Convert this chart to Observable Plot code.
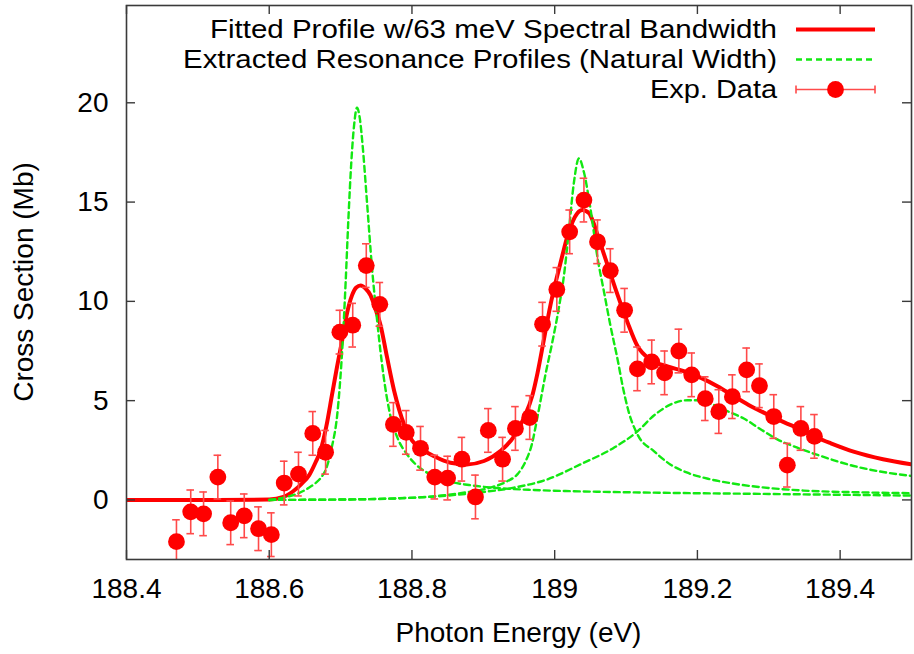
<!DOCTYPE html>
<html>
<head>
<meta charset="utf-8">
<script src="https://cdn.jsdelivr.net/npm/d3@7"></script>
<script src="https://cdn.jsdelivr.net/npm/@observablehq/plot@0.6"></script>
<style>
html, body { margin: 0; padding: 0; background: #fff; }
svg { display: block; }
</style>
</head>
<body>
<div id="chart"></div>
<script>
// ---------- data ----------
const xDomain = [188.4, 189.5];
const yDomain = [-3, 24.9];
const xTicks = [188.4, 188.6, 188.8, 189.0, 189.2, 189.4];
const xTickLabels = ["188.4", "188.6", "188.8", "189", "189.2", "189.4"];
const yTicks = [0, 5, 10, 15, 20];
const yTickLabels = ["0", "5", "10", "15", "20"];

const xTitle = "Photon Energy (eV)";
const yTitle = "Cross Section (Mb)";
const legendLabels = [
  "Fitted Profile w/63 meV Spectral Bandwidth",
  "Extracted Resonance Profiles (Natural Width)",
  "Exp. Data"
];

// experimental data
const dataE = [188.470,188.490,188.508,188.528,188.546,188.565,188.585,188.603,188.621,188.641,
               188.661,188.679,188.699,188.717,188.736,188.755,188.774,188.792,188.812,188.832,
               188.850,188.870,188.889,188.907,188.927,188.945,188.965,188.983,189.003,189.021,
               189.041,189.060,189.078,189.098,189.116,189.136,189.154,189.174,189.192,189.211,
               189.230,189.249,189.269,189.287,189.307,189.326,189.345,189.364];
const dataCS = [-2.1,-0.6,-0.7,1.15,-1.15,-0.8,-1.45,-1.75,0.85,1.3,
                3.35,2.4,8.45,8.8,11.8,9.85,3.8,3.4,2.6,1.15,
                1.1,2.05,0.15,3.5,2.05,3.6,4.15,8.85,10.6,13.5,
                15.1,13.0,11.55,9.55,6.6,6.95,6.4,7.5,6.3,5.1,
                4.45,5.2,6.55,5.75,4.2,1.75,3.6,3.2];
const dataErr = [1.1,1.1,1.1,1.1,1.1,1.1,1.1,1.1,1.1,1.1,
                 1.1,1.1,1.1,1.1,1.1,1.1,1.1,1.1,1.1,1.1,
                 1.1,1.1,1.1,1.1,1.1,1.1,1.1,1.1,1.1,1.1,
                 1.1,1.1,1.1,1.1,1.1,1.1,1.1,1.1,1.1,1.1,
                 1.1,1.1,1.1,1.1,1.1,1.1,1.1,1.1];

// fitted profile (63 meV bandwidth)
const fitE = [188.400,188.500,188.600,188.620,188.634,188.645,188.656,188.665,188.672,188.680,
              188.688,188.695,188.702,188.709,188.716,188.722,188.728,188.735,188.742,188.749,
              188.756,188.765,188.775,188.789,188.800,188.812,188.831,188.854,188.877,188.901,
              188.924,188.943,188.957,188.969,188.976,188.985,188.994,189.003,189.011,189.018,
              189.025,189.032,189.039,189.048,189.054,189.060,189.074,189.088,189.102,189.116,
              189.134,189.158,189.181,189.205,189.228,189.251,189.275,189.298,189.321,189.345,
              189.368,189.387,189.420,189.460,189.500];
const fitCS = [0,0,0.02,0.15,0.45,0.8,1.25,1.9,2.5,3.7,
               5.3,6.7,8.0,9.4,10.3,10.7,10.8,10.65,10.3,9.6,
               8.8,7.2,5.5,3.8,3.0,2.6,2.2,1.87,1.79,1.96,
               2.46,3.2,4.14,5.3,6.4,8.1,9.8,11.2,12.35,13.3,
               14.0,14.45,14.6,14.44,14.0,13.35,11.84,10.34,8.95,7.75,
               7.07,6.73,6.48,6.15,5.73,5.23,4.72,4.31,3.92,3.55,
               3.13,2.85,2.42,2.05,1.79];

// extracted resonance profiles (natural width)
const res1E = [188.600,188.620,188.640,188.655,188.665,188.672,188.680,188.688,188.695,188.699,
               188.703,188.707,188.711,188.715,188.719,188.723,188.727,188.731,188.737,188.744,
               188.751,188.760,188.770,188.780,188.793,188.805,188.820,188.850,188.880,188.920,
               188.970,189.050,189.150,189.300,189.500];
const res1CS = [0.0,0.12,0.32,0.6,0.85,1.1,1.6,2.7,4.2,5.8,
                8.0,10.9,14.2,17.0,18.9,19.75,19.2,17.8,15.0,11.7,
                9.1,6.3,4.2,3.1,2.3,1.8,1.4,0.95,0.75,0.6,
                0.5,0.42,0.36,0.3,0.22];
const res2E = [188.600,188.700,188.780,188.830,188.870,188.910,188.934,188.948,188.960,188.968,
               188.976,188.987,188.997,189.006,189.013,189.020,189.027,189.034,189.041,189.050,
               189.060,189.069,189.078,189.088,189.096,189.104,189.116,189.139,189.162,189.186,
               189.218,189.256,189.303,189.349,189.419,189.500];
const res2CS = [0.0,0.02,0.08,0.18,0.35,0.62,0.95,1.3,2.0,2.8,
                4.2,6.3,8.0,9.7,11.3,13.6,16.0,17.2,16.5,14.7,
                12.2,10.5,8.8,7.1,5.6,4.4,3.3,2.46,1.79,1.37,
                1.04,0.79,0.59,0.47,0.39,0.34];
const res3E = [188.600,188.700,188.780,188.850,188.900,188.943,188.990,189.036,189.083,189.116,
               189.139,189.162,189.186,189.200,189.218,189.242,189.265,189.289,189.312,189.340,
               189.373,189.419,189.466,189.500];
const res3CS = [0.0,0.02,0.08,0.22,0.4,0.62,1.04,1.79,2.63,3.45,
                4.25,4.8,5.02,5.02,4.85,4.47,4.1,3.55,3.05,2.63,
                2.21,1.71,1.37,1.21];

// ---------- build ----------
const W = 914, H = 654;
const mL = 126, mR = 3, mT = 5, mB = 95;
const fw = W - mL - mR, fh = H - mT - mB;
const font = "'Liberation Sans', Arial, Helvetica, sans-serif";
const red = "#ff0000";
const errRed = "#ff4a4a";
const green = "#12e812";
const axisCol = "#3a3a3a";
const tickLen = 9;

const points = dataE.map((e, i) => ({e, cs: dataCS[i], err: dataErr[i]}));
const fit = fitE.map((e, i) => ({e, cs: fitCS[i]}));
const res = [[res1E, res1CS], [res2E, res2CS], [res3E, res3CS]]
  .flatMap(([E, C], k) => E.map((e, i) => ({e, cs: C[i], k})));

const plot = Plot.plot({
  width: W, height: H,
  marginLeft: mL, marginRight: mR, marginTop: mT, marginBottom: mB,
  style: {fontFamily: font, fontSize: "28px", background: "#fff", color: "#000"},
  x: {domain: xDomain},
  y: {domain: yDomain},
  marks: [
    Plot.axisX({ticks: xTicks, tickFormat: d => xTickLabels[xTicks.indexOf(d)], tickSize: 0, tickPadding: 19, label: null, fill: "#000", fontSize: 28}),
    Plot.axisY({ticks: yTicks, tickFormat: d => yTickLabels[yTicks.indexOf(d)], tickSize: 0, tickPadding: 18, label: null, fill: "#000", fontSize: 28}),
    Plot.line(fit, {x: "e", y: "cs", stroke: red, strokeWidth: 4, curve: "monotone-x", clip: true}),
    Plot.line(res, {x: "e", y: "cs", z: "k", stroke: green, strokeWidth: 2.4, strokeDasharray: "6,4", curve: "monotone-x", clip: true}),
    Plot.ruleX(points, {x: "e", y1: d => d.cs - d.err, y2: d => d.cs + d.err, stroke: errRed, strokeWidth: 1.6, clip: true}),
    Plot.ruleY(points, {y: d => d.cs + d.err, x1: "e", x2: "e", insetLeft: -3.8, insetRight: -3.8, stroke: errRed, strokeWidth: 1.6, clip: true}),
    Plot.ruleY(points, {y: d => d.cs - d.err, x1: "e", x2: "e", insetLeft: -3.8, insetRight: -3.8, stroke: errRed, strokeWidth: 1.6, clip: true}),
    Plot.dot(points, {x: "e", y: "cs", r: 8.4, fill: red, stroke: "none"}),
    Plot.tickX(xTicks, {x: d => d, insetTop: fh - tickLen, stroke: axisCol, strokeWidth: 1.4}),
    Plot.tickX(xTicks, {x: d => d, insetBottom: fh - tickLen, stroke: axisCol, strokeWidth: 1.4}),
    Plot.tickY(yTicks, {y: d => d, insetRight: fw - tickLen, stroke: axisCol, strokeWidth: 1.4}),
    Plot.tickY(yTicks, {y: d => d, insetLeft: fw - tickLen, stroke: axisCol, strokeWidth: 1.4}),
    Plot.frame({stroke: axisCol, strokeWidth: 1.6})
  ]
});

document.getElementById("chart").appendChild(plot);

// ---------- titles & legend ----------
const svg = d3.select(plot);
svg.append("text")
  .attr("x", (mL + W - mR) / 2).attr("y", 641.5)
  .attr("text-anchor", "middle")
  .style("font-family", font).style("font-size", "28px").attr("fill", "#000")
  .text(xTitle);
svg.append("text")
  .attr("transform", `translate(33,282) rotate(-90)`)
  .attr("text-anchor", "middle")
  .style("font-family", font).style("font-size", "28px").attr("fill", "#000")
  .text(yTitle);

const lg = svg.append("g").style("font-family", font).style("font-size", "25px");
const legendTextEnd = 777, sx1 = 796, sx2 = 875;
const rowsY = [29.5, 59.5, 89.5];
const textLens = [567, 594, 127];
legendLabels.forEach((t, i) => {
  lg.append("text")
    .attr("x", legendTextEnd).attr("y", rowsY[i] + 8.8)
    .attr("text-anchor", "end").attr("fill", "#000")
    .attr("textLength", textLens[i]).attr("lengthAdjust", "spacingAndGlyphs")
    .text(t);
});
lg.append("line").attr("x1", sx1).attr("x2", sx2).attr("y1", rowsY[0]).attr("y2", rowsY[0])
  .attr("stroke", red).attr("stroke-width", 4);
lg.append("line").attr("x1", sx1).attr("x2", sx2).attr("y1", rowsY[1]).attr("y2", rowsY[1])
  .attr("stroke", green).attr("stroke-width", 2.4).attr("stroke-dasharray", "6,4");
lg.append("line").attr("x1", sx1).attr("x2", sx2).attr("y1", rowsY[2]).attr("y2", rowsY[2])
  .attr("stroke", errRed).attr("stroke-width", 1.6);
[sx1, sx2].forEach(x => lg.append("line").attr("x1", x).attr("x2", x)
  .attr("y1", rowsY[2] - 4).attr("y2", rowsY[2] + 4)
  .attr("stroke", errRed).attr("stroke-width", 1.6));
lg.append("circle").attr("cx", (sx1 + sx2) / 2).attr("cy", rowsY[2]).attr("r", 8.4).attr("fill", red);
</script>
</body>
</html>
